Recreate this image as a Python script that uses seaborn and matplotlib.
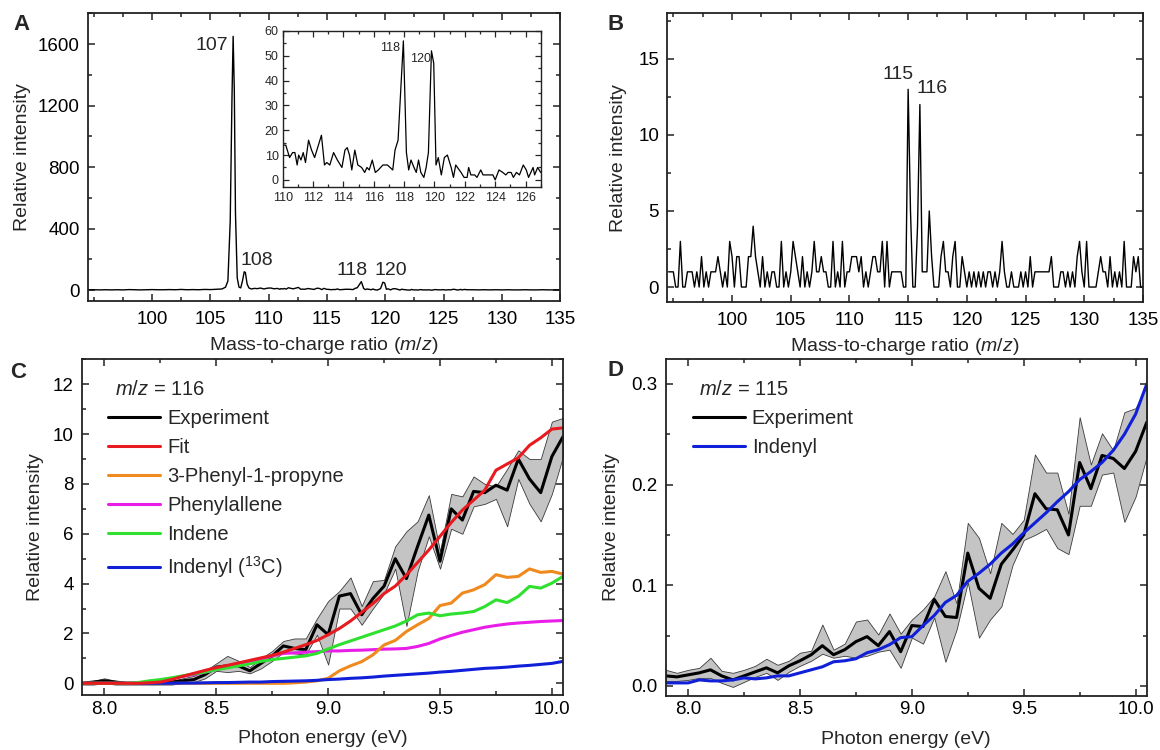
import numpy as np
import matplotlib
matplotlib.use("Agg")
import matplotlib.pyplot as plt
from matplotlib.ticker import MultipleLocator, FixedLocator, FormatStrFormatter
import seaborn as sns

sns.set_theme(style="ticks")
plt.rcParams["font.family"] = ["Liberation Sans", "DejaVu Sans"]
plt.rcParams["mathtext.fontset"] = "custom"
plt.rcParams["mathtext.rm"] = "Liberation Sans"
plt.rcParams["mathtext.it"] = "Liberation Sans:italic"
plt.rcParams["axes.linewidth"] = 1.3
plt.rcParams["axes.edgecolor"] = "#222222"

# ---- panel A: mass spectrum (m/z, counts), same data used for the inset
a_mz = [94.5, 95.0, 95.5, 96.0, 96.5, 97.0, 97.5, 98.0, 98.5, 99.0, 99.5, 100.0,
        100.5, 101.0, 101.5, 102.0, 102.5, 103.0, 103.5, 104.0, 104.5, 105.0, 105.5,
        106.0, 106.3, 106.5, 106.7, 106.85, 106.95, 107.05, 107.15, 107.3, 107.45,
        107.6, 107.75, 107.9, 108.0, 108.15, 108.3, 108.5, 108.8, 109.0, 109.3, 109.6, 109.8,
        110.0, 110.2, 110.45, 110.65, 110.8, 110.95, 111.05, 111.2, 111.35, 111.5, 111.7,
        111.9, 112.1, 112.3, 112.55, 112.75, 112.9, 113.1, 113.35, 113.6, 113.9, 114.1,
        114.25, 114.4, 114.55, 114.75, 114.95, 115.2, 115.4, 115.55, 115.7, 115.9, 116.1,
        116.3, 116.6, 116.9, 117.25, 117.4, 117.6, 117.95, 118.15, 118.3, 118.45, 118.65,
        118.8, 118.95, 119.1, 119.3, 119.45, 119.6, 119.8, 119.95, 120.1, 120.25, 120.45,
        120.65, 120.85, 121.1, 121.25, 121.4, 121.75, 121.95, 122.15, 122.25, 122.4, 122.65,
        122.8, 123.05, 123.2, 123.5, 123.85, 124.0, 124.25, 124.5, 124.7, 124.85, 125.05,
        125.2, 125.4, 125.6, 125.85, 126.05, 126.2, 126.5, 126.6, 126.8, 127.0,
        127.5, 128.0, 128.5, 129.0, 129.5, 130.0, 130.5, 131.0, 131.5, 132.0, 132.5,
        133.0, 133.5, 134.0, 134.5, 135.0]
a_int = [2, 3, 2, 3, 2, 3, 2, 4, 3, 2, 3, 4,
         3, 3, 4, 3, 5, 3, 4, 3, 5, 4, 6,
         8, 20, 60, 450, 1250, 1650, 1300, 500, 80, 20,
         15, 60, 120, 115, 40, 15, 8, 12, 10, 14, 8, 12,
         14, 14, 9, 11, 11, 6, 10, 8, 11, 7, 16,
         12, 9, 13, 18, 6, 7, 6, 11, 8, 5, 12,
         13, 10, 4, 12, 6, 5, 3, 5, 4, 8, 3,
         4, 6, 6, 4, 12, 16, 56, 11, 4, 8, 5,
         3, 8, 3, 1, 5, 11, 52, 47, 6, 9, 2,
         9, 10, 5, 1, 6, 3, 1, 1, 5, 2, 2,
         1, 4, 2, 2, 2, 0, 4, 3, 2, 3, 3,
         1, 3, 2, 6, 4, 1, 5, 2, 5, 3,
         3, 2, 3, 2, 3, 2, 3, 2, 2, 3, 2,
         2, 3, 2, 2, 2]
a_peaks = ["107", "108", "118", "120"]

# ---- panel B: mass spectrum, counts on a 0.2 m/z grid from 94.6 to 135.0
b_counts = [1, 1, 1, 0, 0, 3, 0, 0, 1, 1,
            1, 0, 1, 0, 2, 0, 1, 0, 1, 1,
            1, 2, 1, 0, 1, 0, 3, 2, 0, 2,
            2, 0, 0, 0, 2, 2, 4, 2, 1, 0,
            2, 0, 1, 0, 1, 1, 0, 0, 3, 0,
            1, 0, 1, 3, 2, 1, 0, 2, 0, 1,
            0, 1, 3, 1, 1, 2, 1, 1, 0, 0,
            3, 0, 1, 0, 3, 0, 1, 1, 2, 2,
            2, 1, 2, 0, 1, 0, 1, 2, 2, 1,
            1, 3, 0, 3, 0, 1, 1, 1, 1, 1,
            0, 0,
            13, 5, 0, 0, 4, 12, 1, 1, 1, 5,
            2, 0, 0, 0, 2, 3, 1, 1, 0, 2,
            3, 0, 0, 2, 1, 0, 1, 0, 1, 0,
            1, 0, 1, 0, 1, 1, 0, 1, 0, 1,
            3, 1, 0, 0, 1, 0, 0, 0, 1, 0,
            1, 0, 2, 0, 1, 1, 1, 1, 1, 1,
            1, 2, 0, 0, 0, 1, 1, 0, 1, 0,
            1, 0, 2, 3, 1, 0, 3, 0, 0, 0,
            0, 1, 2, 1, 1, 0, 2, 0, 1, 0,
            1, 0, 3, 0, 0, 0, 2, 1, 2, 0,
            0]
b_mz = np.linspace(94.6, 135.0, len(b_counts))
mz_ticks = [100, 105, 110, 115, 120, 125, 130, 135]

# ---- panels C and D: photon energy scans (0.05 eV steps)
energy = [7.90, 7.95, 8.00, 8.05, 8.10, 8.15, 8.20, 8.25, 8.30, 8.35, 8.40, 8.45,
          8.50, 8.55, 8.60, 8.65, 8.70, 8.75, 8.80, 8.85, 8.90, 8.95, 9.00, 9.05,
          9.10, 9.15, 9.20, 9.25, 9.30, 9.35, 9.40, 9.45, 9.50, 9.55, 9.60, 9.65,
          9.70, 9.75, 9.80, 9.85, 9.90, 9.95, 10.00, 10.05]

c_exp = [0.00, 0.05, 0.10, 0.05, 0.00, 0.00, 0.00, 0.00, 0.05, 0.10, 0.15, 0.35,
         0.65, 0.70, 0.70, 0.50, 0.80, 1.10, 1.50, 1.40, 1.35, 2.35, 1.95, 3.50,
         3.60, 2.75, 3.40, 3.90, 5.00, 4.20, 5.50, 6.75, 4.90, 7.00, 6.55, 7.70,
         7.65, 7.95, 7.75, 9.00, 8.20, 7.65, 9.10, 9.90]
c_lo = [-0.05, -0.05, 0.00, -0.05, -0.05, -0.05, -0.05, -0.05, -0.05, 0.00, 0.05, 0.20,
        0.50, 0.45, 0.50, 0.40, 0.60, 0.90, 1.25, 1.20, 1.15, 1.95, 0.75, 3.00,
        3.00, 2.35, 3.00, 3.60, 4.60, 2.30, 4.50, 5.90, 4.60, 6.20, 6.00, 7.10,
        7.20, 7.40, 6.30, 8.20, 7.20, 6.50, 7.60, 9.10]
c_hi = [0.05, 0.10, 0.20, 0.10, 0.05, 0.05, 0.05, 0.05, 0.10, 0.20, 0.30, 0.50,
        0.80, 1.10, 0.90, 0.65, 1.00, 1.30, 1.70, 1.80, 1.80, 2.60, 3.30, 3.70,
        4.25, 3.10, 4.10, 4.15, 5.50, 6.10, 6.50, 7.55, 5.30, 7.60, 7.50, 8.30,
        8.00, 7.90, 8.60, 9.35, 9.00, 9.00, 10.50, 10.65]
c_fit = [0.00, 0.00, 0.00, 0.00, 0.00, 0.00, 0.02, 0.05, 0.15, 0.28, 0.40, 0.52,
         0.63, 0.72, 0.82, 0.92, 1.02, 1.12, 1.25, 1.40, 1.55, 1.72, 1.95, 2.20,
         2.50, 2.85, 3.20, 3.60, 3.90, 4.35, 4.85, 5.35, 5.90, 6.45, 6.95, 7.35,
         7.75, 8.55, 8.80, 9.05, 9.55, 9.85, 10.20, 10.25]
c_propyne = [0.00, 0.00, 0.00, 0.00, 0.00, 0.00, 0.00, 0.00, 0.00, 0.00, 0.00, 0.00,
             0.00, 0.00, 0.00, 0.00, 0.00, 0.00, 0.00, 0.02, 0.05, 0.10, 0.20, 0.50,
             0.70, 0.87, 1.14, 1.54, 1.72, 2.08, 2.35, 2.60, 3.12, 3.22, 3.62, 3.75,
             3.96, 4.36, 4.25, 4.29, 4.59, 4.45, 4.49, 4.38]
c_phenylallene = [0.00, 0.00, 0.00, 0.00, 0.00, 0.02, 0.05, 0.12, 0.20, 0.28, 0.35, 0.45,
                  0.55, 0.65, 0.75, 0.85, 0.95, 1.10, 1.20, 1.22, 1.25, 1.27, 1.30, 1.30,
                  1.32, 1.33, 1.35, 1.37, 1.38, 1.40, 1.48, 1.60, 1.78, 1.92, 2.05, 2.15,
                  2.25, 2.32, 2.38, 2.42, 2.45, 2.48, 2.50, 2.52]
c_indene = [0.00, 0.00, 0.00, 0.00, 0.00, 0.03, 0.10, 0.15, 0.22, 0.30, 0.38, 0.45,
            0.55, 0.62, 0.70, 0.78, 0.88, 0.95, 1.00, 1.05, 1.10, 1.20, 1.38, 1.55,
            1.70, 1.85, 2.00, 2.15, 2.30, 2.50, 2.75, 2.82, 2.71, 2.78, 2.82, 2.88,
            3.08, 3.35, 3.24, 3.49, 3.89, 3.82, 4.02, 4.29]
c_indenyl13 = [0.00, 0.00, 0.00, 0.00, 0.00, 0.00, 0.00, 0.00, 0.00, 0.01, 0.01, 0.02,
               0.03, 0.03, 0.04, 0.05, 0.05, 0.07, 0.08, 0.09, 0.10, 0.12, 0.15, 0.17,
               0.20, 0.22, 0.25, 0.29, 0.32, 0.35, 0.38, 0.41, 0.45, 0.48, 0.52, 0.56,
               0.60, 0.62, 0.65, 0.69, 0.72, 0.76, 0.80, 0.88]

d_exp = [0.010, 0.009, 0.011, 0.013, 0.016, 0.010, 0.006, 0.010, 0.014, 0.018, 0.013, 0.020,
         0.025, 0.031, 0.040, 0.031, 0.036, 0.044, 0.049, 0.040, 0.054, 0.034, 0.060, 0.059,
         0.086, 0.069, 0.068, 0.132, 0.097, 0.087, 0.121, 0.135, 0.150, 0.191, 0.176, 0.175,
         0.150, 0.222, 0.196, 0.229, 0.226, 0.216, 0.233, 0.262]
d_lo = [0.005, 0.005, 0.006, 0.008, 0.008, 0.003, -0.001, 0.004, 0.009, 0.013, 0.006, 0.014,
        0.020, 0.025, 0.032, 0.028, 0.030, 0.028, 0.030, 0.034, 0.036, 0.018, 0.048, 0.042,
        0.068, 0.024, 0.056, 0.103, 0.048, 0.066, 0.079, 0.120, 0.145, 0.150, 0.156, 0.137,
        0.131, 0.179, 0.179, 0.210, 0.212, 0.163, 0.188, 0.228]
d_hi = [0.016, 0.013, 0.016, 0.018, 0.028, 0.015, 0.013, 0.016, 0.020, 0.027, 0.021, 0.025,
        0.033, 0.035, 0.061, 0.036, 0.042, 0.064, 0.066, 0.051, 0.072, 0.052, 0.066, 0.076,
        0.089, 0.114, 0.082, 0.162, 0.147, 0.112, 0.162, 0.151, 0.165, 0.230, 0.212, 0.212,
        0.171, 0.267, 0.220, 0.251, 0.234, 0.272, 0.276, 0.298]
d_indenyl = [0.003, 0.003, 0.003, 0.006, 0.005, 0.005, 0.006, 0.008, 0.007, 0.008, 0.010, 0.010,
             0.013, 0.016, 0.019, 0.024, 0.025, 0.027, 0.033, 0.036, 0.041, 0.048, 0.049, 0.060,
             0.070, 0.083, 0.090, 0.104, 0.112, 0.121, 0.132, 0.141, 0.152, 0.162, 0.172, 0.183,
             0.193, 0.205, 0.213, 0.222, 0.234, 0.250, 0.270, 0.300]

c_names = ["Experiment", "Fit", "3-Phenyl-1-propyne", "Phenylallene", "Indene",
           "Indenyl ($^{13}$C)"]
c_colors = ["black", "#e8191f", "#f0891e", "#e81de8", "#2fe02f", "#1020d8"]

FS = 14
LEG_FS = 14.5


def style_axis(ax, xpad=7, ypad=6):
    ax.tick_params(which="both", direction="in", top=True, right=True,
                   labelsize=13.5, width=1.1, colors="#222222", labelcolor="black")
    ax.tick_params(which="major", length=5)
    ax.tick_params(which="minor", length=3)
    ax.tick_params(axis="x", pad=xpad)
    ax.tick_params(axis="y", pad=ypad)


fig = plt.figure(figsize=(11.6, 7.5), dpi=100)
axA = fig.add_axes([0.0759, 0.5987, 0.4069, 0.3836])
axB = fig.add_axes([0.5754, 0.5970, 0.4099, 0.3853])
axC = fig.add_axes([0.0707, 0.0733, 0.4147, 0.4476])
axD = fig.add_axes([0.5739, 0.0724, 0.4147, 0.4485])

# ---- A
sns.lineplot(x=a_mz, y=a_int, ax=axA, color="black", lw=1.0, estimator=None)
axA.set_xlim(94.5, 135)
axA.set_ylim(-70, 1800)
axA.xaxis.set_major_locator(FixedLocator(mz_ticks))
axA.xaxis.set_minor_locator(MultipleLocator(2.5))
axA.yaxis.set_major_locator(MultipleLocator(400))
axA.yaxis.set_minor_locator(MultipleLocator(200))
style_axis(axA)
axA.set_xlabel("Mass-to-charge ratio ($m/z$)", fontsize=FS, labelpad=5)
axA.set_ylabel("Relative intensity", fontsize=FS, labelpad=5)
axA.text(106.55, 1590, a_peaks[0], fontsize=FS, ha="right", va="center")
axA.text(109.0, 195, a_peaks[1], fontsize=FS, ha="center", va="center")
axA.text(117.14, 125, a_peaks[2], fontsize=FS, ha="center", va="center")
axA.text(120.44, 125, a_peaks[3], fontsize=FS, ha="center", va="center")

ins = axA.inset_axes([0.4125, 0.395, 0.5465, 0.5435])
sns.lineplot(x=a_mz, y=a_int, ax=ins, color="black", lw=0.9, estimator=None)
ins.set_xlim(110, 127)
ins.set_ylim(-3, 60)
ins.xaxis.set_major_locator(MultipleLocator(2))
ins.xaxis.set_minor_locator(MultipleLocator(1))
ins.yaxis.set_major_locator(MultipleLocator(10))
ins.yaxis.set_minor_locator(MultipleLocator(5))
ins.tick_params(which="both", direction="in", top=True, right=True, labelsize=9,
                width=0.9, pad=3)
ins.tick_params(which="major", length=4)
ins.tick_params(which="minor", length=2)
for s in ins.spines.values():
    s.set_linewidth(1.0)
ins.set_xlabel("")
ins.set_ylabel("")
ins.text(117.1, 53.3, a_peaks[2], fontsize=9, ha="center", va="center")
ins.text(119.07, 48.9, a_peaks[3], fontsize=9, ha="center", va="center")

# ---- B
sns.lineplot(x=b_mz, y=b_counts, ax=axB, color="black", lw=1.0, estimator=None)
axB.set_xlim(94.5, 135)
axB.set_ylim(-1, 18)
axB.xaxis.set_major_locator(FixedLocator(mz_ticks))
axB.xaxis.set_minor_locator(MultipleLocator(2.5))
axB.yaxis.set_major_locator(MultipleLocator(5))
axB.yaxis.set_minor_locator(MultipleLocator(2.5))
style_axis(axB)
axB.set_xlabel("Mass-to-charge ratio ($m/z$)", fontsize=FS, labelpad=5)
axB.set_ylabel("Relative intensity", fontsize=FS, labelpad=8)
axB.text(114.12, 14.0, "115", fontsize=FS, ha="center", va="center")
axB.text(117.0, 13.05, "116", fontsize=FS, ha="center", va="center")

# ---- C
axC.fill_between(energy, c_lo, c_hi, facecolor="#c4c4c4", edgecolor="#3a3a3a", lw=0.6)
c_series = [c_exp, c_fit, c_propyne, c_phenylallene, c_indene, c_indenyl13]
draw_order = [0, 3, 2, 5, 4, 1]
handles = {}
for k in draw_order:
    sns.lineplot(x=energy, y=c_series[k], ax=axC, color=c_colors[k], lw=2.2,
                 estimator=None, label=c_names[k])
    handles[k] = axC.get_lines()[-1]
axC.legend([handles[k] for k in range(6)], c_names, loc="upper left",
           bbox_to_anchor=(0.054, 0.852), frameon=False, fontsize=LEG_FS,
           handlelength=2.6, handletextpad=0.33, labelspacing=0.5,
           borderpad=0, borderaxespad=0)
axC.text(0.068, 0.909, "$m/z$ = 116", transform=axC.transAxes, fontsize=LEG_FS,
         ha="left", va="center")
axC.set_xlim(7.9, 10.05)
axC.set_ylim(-0.47, 13.0)
axC.xaxis.set_major_locator(MultipleLocator(0.5))
axC.xaxis.set_minor_locator(MultipleLocator(0.25))
axC.xaxis.set_major_formatter(FormatStrFormatter("%.1f"))
axC.yaxis.set_major_locator(MultipleLocator(2))
axC.yaxis.set_minor_locator(MultipleLocator(1))
style_axis(axC, xpad=4)
axC.set_xlabel("Photon energy (eV)", fontsize=FS, labelpad=9)
axC.set_ylabel("Relative intensity", fontsize=FS, labelpad=6)

# ---- D
axD.fill_between(energy, d_lo, d_hi, facecolor="#c4c4c4", edgecolor="#3a3a3a", lw=0.6)
sns.lineplot(x=energy, y=d_exp, ax=axD, color="black", lw=2.2, estimator=None)
sns.lineplot(x=energy, y=d_indenyl, ax=axD, color="#1020d8", lw=2.2, estimator=None)
dl = axD.get_lines()
axD.legend([dl[-2], dl[-1]], ["Experiment", "Indenyl"], loc="upper left",
           bbox_to_anchor=(0.056, 0.852), frameon=False, fontsize=LEG_FS,
           handlelength=2.6, handletextpad=0.33, labelspacing=0.5,
           borderpad=0, borderaxespad=0)
axD.text(0.069, 0.909, "$m/z$ = 115", transform=axD.transAxes, fontsize=LEG_FS,
         ha="left", va="center")
axD.set_xlim(7.9, 10.05)
axD.set_ylim(-0.0097, 0.3245)
axD.xaxis.set_major_locator(MultipleLocator(0.5))
axD.xaxis.set_minor_locator(MultipleLocator(0.25))
axD.xaxis.set_major_formatter(FormatStrFormatter("%.1f"))
axD.yaxis.set_major_locator(MultipleLocator(0.1))
axD.yaxis.set_minor_locator(MultipleLocator(0.05))
axD.yaxis.set_major_formatter(FormatStrFormatter("%.1f"))
style_axis(axD, xpad=4)
axD.set_xlabel("Photon energy (eV)", fontsize=FS, labelpad=9)
axD.set_ylabel("Relative intensity", fontsize=FS, labelpad=8)

# panel letters
for lab, x, y in [("A", 0.0185, 0.967), ("B", 0.531, 0.967),
                  ("C", 0.016, 0.503), ("D", 0.531, 0.506)]:
    fig.text(x, y, lab, fontsize=16, fontweight="bold", ha="center", va="center")

fig.savefig("out.png", dpi=100)
